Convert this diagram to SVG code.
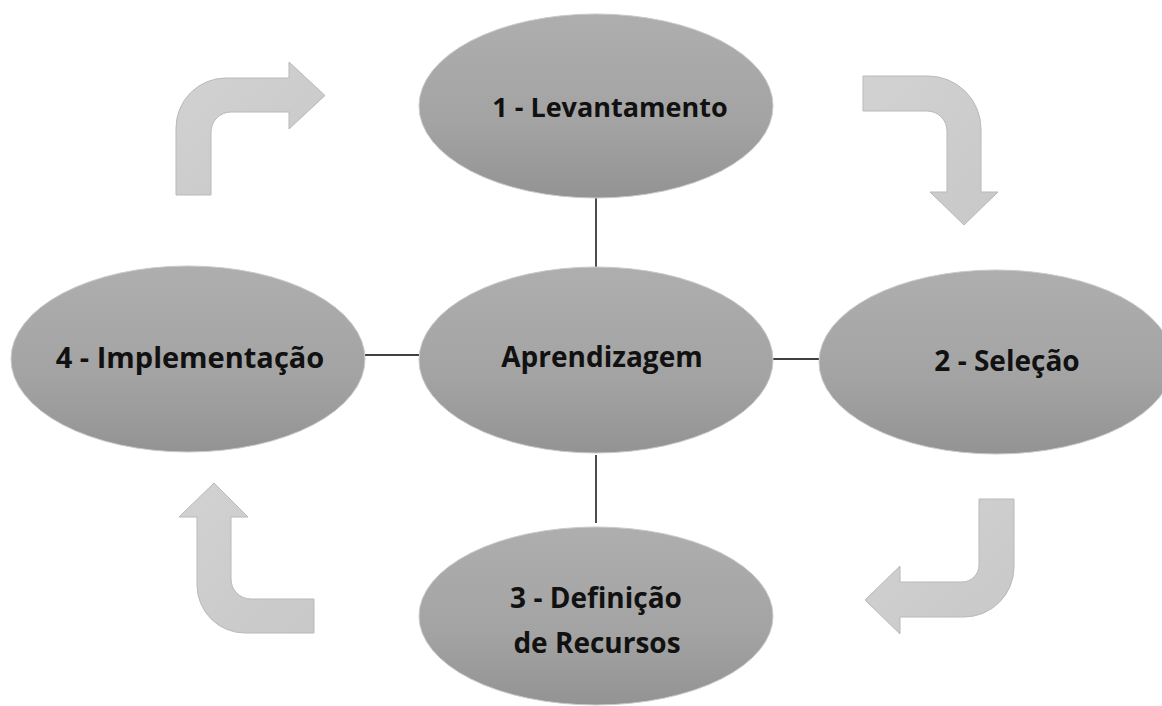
<svg xmlns="http://www.w3.org/2000/svg" width="1162" height="706" viewBox="0 0 1162 706">
<defs>
<linearGradient id="ellG" x1="0" y1="0" x2="0" y2="1">
<stop offset="0" stop-color="#aeaeae"/>
<stop offset="0.6" stop-color="#a3a3a3"/>
<stop offset="1" stop-color="#939393"/>
</linearGradient>
<linearGradient id="arrG" x1="0" y1="0" x2="1" y2="1">
<stop offset="0" stop-color="#d2d2d2"/>
<stop offset="1" stop-color="#c8c8c8"/>
</linearGradient>
</defs>
<style>
.ell{fill:url(#ellG);stroke:#c9c9c9;stroke-width:1}
.arr{fill:url(#arrG);stroke:#b9b9b9;stroke-width:1}
.lbl{font-family:"Open Sans","Liberation Sans",sans-serif;font-weight:bold;font-size:28px;fill:#111;text-anchor:middle}
.con{stroke:#000;stroke-width:1.4;fill:none}
</style>
<rect width="1162" height="706" fill="#ffffff"/>
<g id="arrows">
<path id="arrow1" class="arr" d="M176,195 L176,128 A50,50 0 0 1 226,78 L289,78 L289,62 L325,95.5 L289,129 L289,112 L231,112 A20,20 0 0 0 211,132 L211,195 Z"/>
<path id="arrow2" class="arr" d="M863,76 L928,76 A53,53 0 0 1 981,129 L981,192 L998,192 L964,225 L930,192 L947,192 L947,131 A20,20 0 0 0 927,111 L863,111 Z"/>
<path id="arrow3" class="arr" d="M979,499 L1014,499 L1014,567 A50,50 0 0 1 964,617 L900,617 L900,634 L865,600 L900,566 L900,582 L962,582 A17,17 0 0 0 979,565 Z"/>
<path id="arrow4" class="arr" d="M314,599 L251,599 A20,20 0 0 1 231,579 L231,517 L248,517 L214,483 L179,517 L197,517 L197,585 A48,48 0 0 0 245,633 L314,633 Z"/>
</g>
<g id="connectors">
<line class="con" x1="596" y1="198" x2="596" y2="267"/>
<line class="con" x1="365" y1="355" x2="419" y2="355"/>
<line class="con" x1="773" y1="359" x2="819" y2="359"/>
<line class="con" x1="596" y1="455" x2="596" y2="523"/>
</g>
<g id="node-levantamento">
<ellipse class="ell" cx="596" cy="106" rx="177" ry="92"/>
<text class="lbl" x="610" y="117" style="font-size:27px">1 - Levantamento</text>
</g>
<g id="node-aprendizagem">
<ellipse class="ell" cx="596" cy="360" rx="177" ry="93"/>
<text class="lbl" x="602" y="367">Aprendizagem</text>
</g>
<g id="node-implementacao">
<ellipse class="ell" cx="188" cy="359" rx="177" ry="93"/>
<text class="lbl" x="190" y="368" style="font-size:29px">4 - Implementação</text>
</g>
<g id="node-selecao">
<ellipse class="ell" cx="996" cy="362" rx="177" ry="92"/>
<text class="lbl" x="1007" y="371">2 - Seleção</text>
</g>
<g id="node-definicao">
<ellipse class="ell" cx="596" cy="616" rx="177" ry="89"/>
<text class="lbl" x="596" y="608">3 - Definição</text>
<text class="lbl" x="597" y="653">de Recursos</text>
</g>
</svg>
